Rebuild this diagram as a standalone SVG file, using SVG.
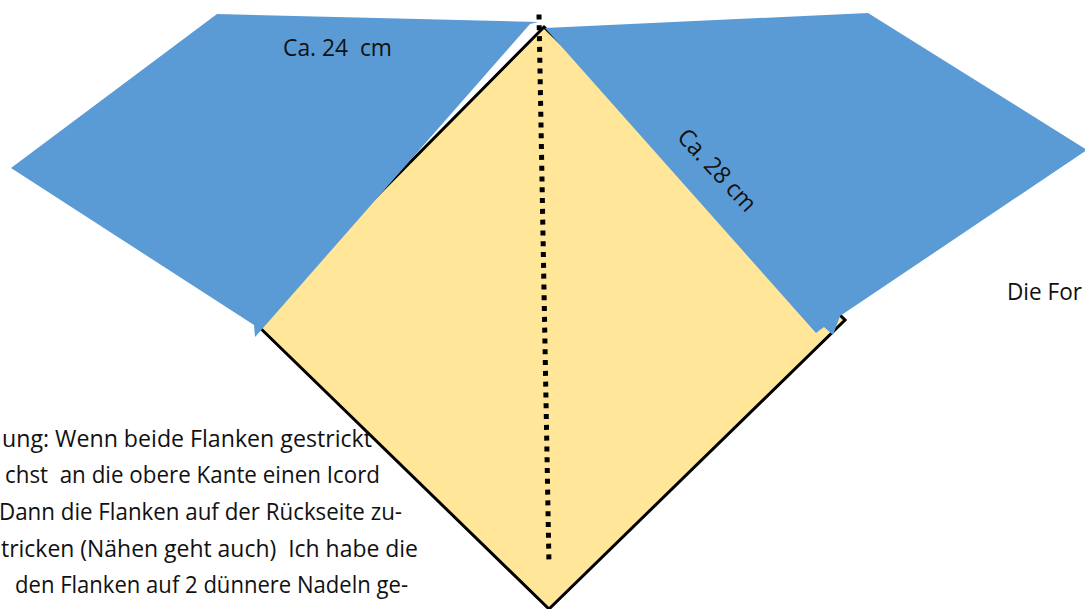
<svg xmlns="http://www.w3.org/2000/svg" width="1085" height="609" viewBox="0 0 1085 609">
  <style>
    .txt { font-family: "Open Sans", "Noto Sans", "Liberation Sans", sans-serif; font-size: 24px; fill: #111111; white-space: pre; }
    .wing { fill: #5B9BD5; stroke: none; }
    .body { fill: #FFE699; stroke: #000000; stroke-width: 3; stroke-linejoin: miter; }
    .dots { fill: none; stroke: #000000; stroke-width: 5; stroke-dasharray: 5 5.8; }
  </style>
  <rect x="0" y="0" width="1085" height="609" fill="#FFFFFF"/>

  <g id="body">
    <polygon class="body" points="544,27 845,320 549,609 253,321"/>
  </g>

  <g id="left-wing">
    <polygon class="wing" points="217,14 538,22 530,24 263,328 255,337 254,325 11,168"/>
    <text class="txt" x="283" y="56" textLength="109" lengthAdjust="spacingAndGlyphs">Ca. 24  cm</text>
  </g>

  <g id="right-wing">
    <polygon class="wing" points="545,28 868,13 1087,150 840,316 833,335 824,327 816,333"/>
    <text class="txt" transform="translate(676,138) rotate(47)" x="0" y="0" textLength="103" lengthAdjust="spacingAndGlyphs">Ca. 28 cm</text>
  </g>

  <g id="connectors">
    <line class="dots" x1="539" y1="14.5" x2="549" y2="565"/>
  </g>

  <g id="notes">
    <text class="txt" x="2" y="447" textLength="370" lengthAdjust="spacingAndGlyphs">ung: Wenn beide Flanken gestrickt</text>
    <text class="txt" x="5" y="483" textLength="375" lengthAdjust="spacingAndGlyphs">chst  an die obere Kante einen Icord</text>
    <text class="txt" x="-1" y="520" textLength="403" lengthAdjust="spacingAndGlyphs">Dann die Flanken auf der Rückseite zu-</text>
    <text class="txt" x="1" y="557" textLength="417" lengthAdjust="spacingAndGlyphs">tricken (Nähen geht auch)  Ich habe die</text>
    <text class="txt" x="15" y="593" textLength="393" lengthAdjust="spacingAndGlyphs">den Flanken auf 2 dünnere Nadeln ge-</text>
    <text class="txt" x="1007" y="300" textLength="75" lengthAdjust="spacingAndGlyphs">Die For</text>
  </g>
</svg>
